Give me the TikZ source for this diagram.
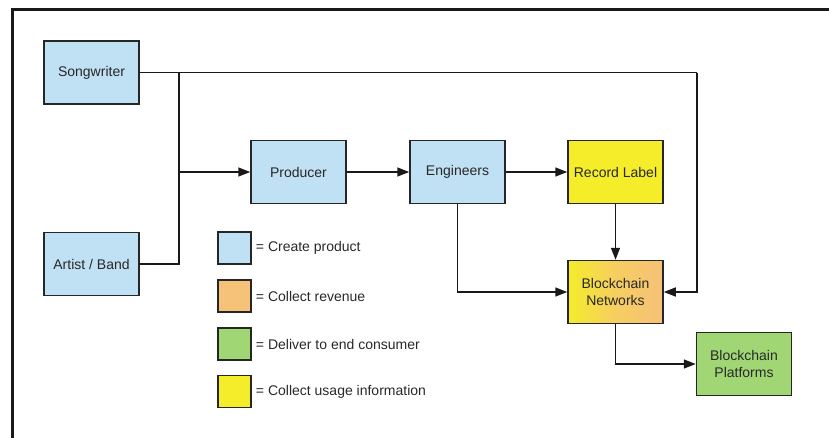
\documentclass[tikz,border=0pt]{standalone}
\usepackage{fontspec}
\setmainfont{Liberation Sans}
\usetikzlibrary{arrows.meta,shadings}
\definecolor{createblue}{RGB}{192,224,243}
\definecolor{revorange}{RGB}{246,193,120}
\definecolor{delgreen}{RGB}{160,215,116}
\definecolor{useyellow}{RGB}{245,236,42}
\definecolor{textgray}{RGB}{40,40,40}

\begin{document}
\begin{tikzpicture}[x=1pt, y=-1pt,
    box/.style={draw=black!85, line width=1.5pt, minimum width=95pt, minimum height=63pt,
      inner sep=0pt, align=center, text=textgray, font=\fontsize{14}{17}\selectfont},
    key/.style={draw=black!85, line width=1.5pt, minimum width=33pt, minimum height=32pt, inner sep=0pt},
    keytext/.style={anchor=west, inner sep=0pt, text=textgray, font=\fontsize{14}{17}\selectfont},
    link/.style={line width=1.5pt, draw=black!90},
    arr/.style={link, -{Triangle[length=12pt, width=9pt]}}]
    \clip (0,0) rectangle (829,437);

    % outer frame, only left and top edges are inside the picture
    \draw [line width=3pt, black!90] (12,9) rectangle (850,460);

    \node [box, fill=createblue] (songwriter) at (91.5,72.5) {Songwriter};
    \node [box, fill=createblue] (artist) at (91.5,264) {Artist / Band};
    \node [box, fill=createblue] (producer) at (298.5,172) {Producer};
    \node [box, fill=createblue] (engineers) at (457.5,172) {Engineers};
    \node [box, fill=useyellow] (label) at (615.5,172) {Record Label};
    \node [box, left color=useyellow, right color=revorange, middle color=revorange!70!useyellow] (networks) at (615.5,292) {Blockchain\\Networks};
    \node [box, fill=delgreen] (platforms) at (744,364) {Blockchain\\Platforms};

    \coordinate (join) at (179,72.5);
    \coordinate (turn) at (697,72.5);

    \draw [link] (songwriter.east) -- (turn);
    \draw [link] (join) |- (artist.east);
    \draw [arr] (join |- producer.west) -- (producer.west);
    \draw [arr] (turn) |- (networks.east);
    \draw [arr] (producer) -- (engineers);
    \draw [arr] (engineers) -- (label);
    \draw [arr] (label) -- (networks);
    \draw [arr] (engineers.south) |- (networks.west);
    \draw [arr] (networks.south) |- (platforms.west);

    % legend
    \node [key, fill=createblue] (keyblue) at (234.5,248) {};
    \node [key, fill=revorange] (keyorange) at (234.5,296) {};
    \node [key, fill=delgreen] (keygreen) at (234.5,344) {};
    \node [key, fill=useyellow] (keyyellow) at (234.5,391.5) {};
    \node [keytext] at ([xshift=4pt]keyblue.east) {= Create product};
    \node [keytext] at ([xshift=4pt]keyorange.east) {= Collect revenue};
    \node [keytext] at ([xshift=4pt]keygreen.east) {= Deliver to end consumer};
    \node [keytext] at ([xshift=4pt]keyyellow.east) {= Collect usage information};
\end{tikzpicture}
\end{document}
